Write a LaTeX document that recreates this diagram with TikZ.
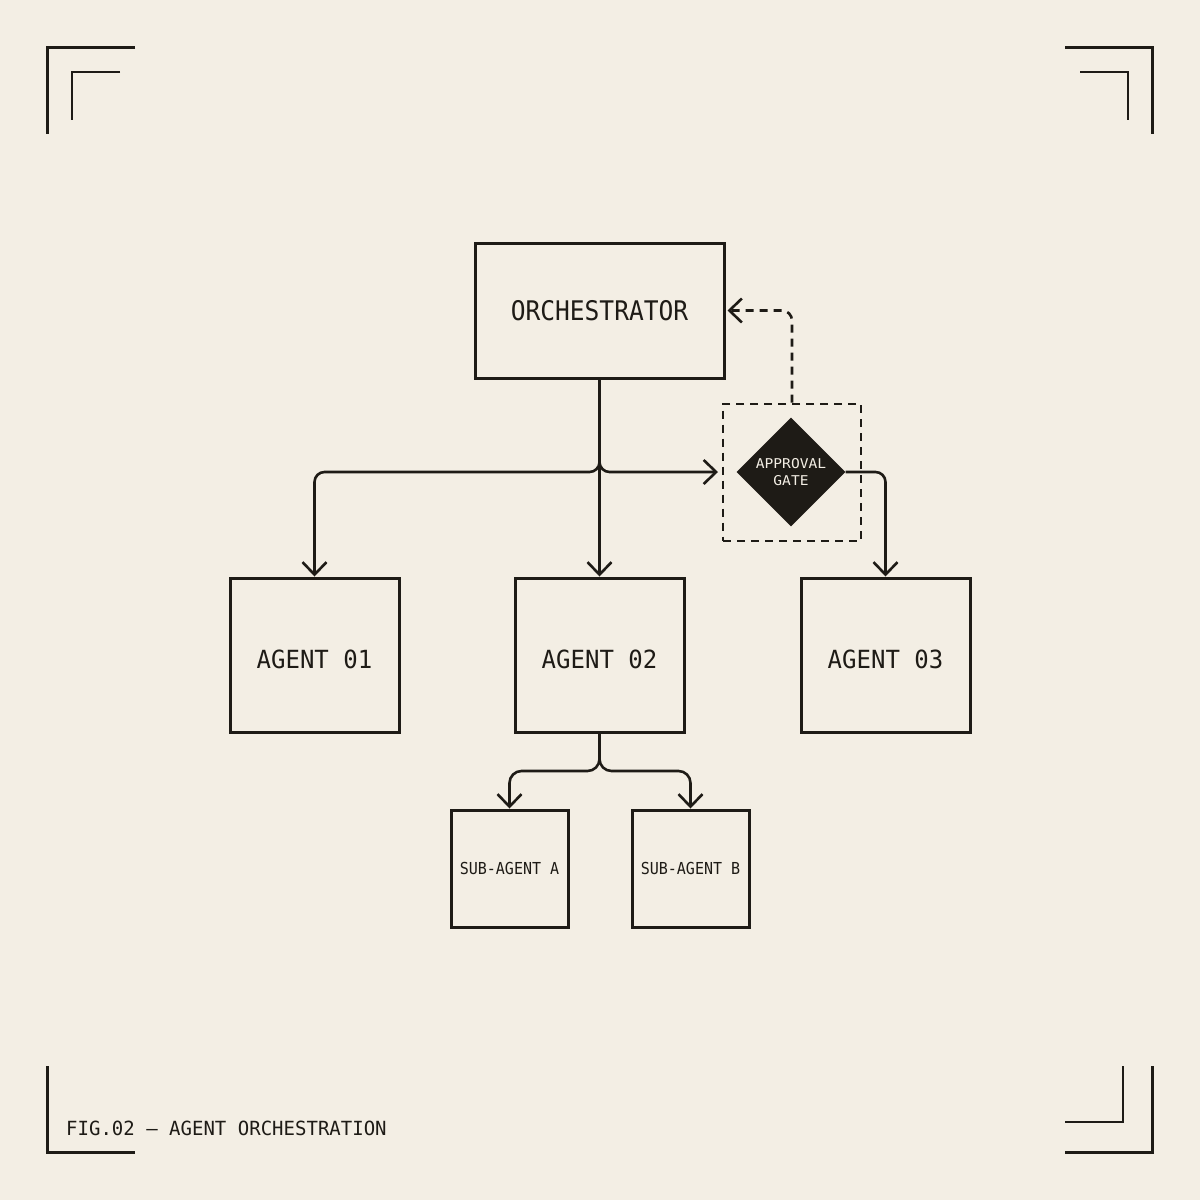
\documentclass[tikz,border=0pt]{standalone}
\usepackage{fontspec}
\usetikzlibrary{arrows.meta,shapes.geometric}
\newfontfamily\monoN[FakeStretch=0.91]{DejaVu Sans Mono}
\newfontfamily\monoM[FakeStretch=0.96]{DejaVu Sans Mono}
\newfontfamily\monoC[FakeStretch=0.975]{DejaVu Sans Mono}
\newfontfamily\monoW[FakeStretch=1.08]{DejaVu Sans Mono}
\definecolor{bg}{HTML}{F3EEE4}
\definecolor{ink}{HTML}{1E1B16}
\begin{document}
\begin{tikzpicture}[x=1pt,y=-1pt,
  box/.style={draw=ink, line width=3pt, inner sep=0pt, text=ink},
  conn/.style={draw=ink, line width=2.6pt, rounded corners=10pt, -{Straight Barb[length=12.5pt,width=24pt]}},
  dconn/.style={conn, dash pattern=on 8pt off 6pt},
  corner/.style={draw=ink, line width=3pt},
  cornerin/.style={draw=ink, line width=2.5pt},
]
\useasboundingbox (0,0) rectangle (1200,1200);
\fill[bg] (0,0) rectangle (1200,1200);

% corner marks
\draw[corner] (135,47) -- (47,47) -- (47,134);
\draw[cornerin] (120,72) -- (72,72) -- (72,120);
\draw[corner] (1065,47) -- (1152,47) -- (1152,134);
\draw[cornerin] (1080,72) -- (1128,72) -- (1128,120);
\draw[corner] (47,1066) -- (47,1152) -- (135,1152);
\draw[corner] (1152,1066) -- (1152,1152) -- (1065,1152);
\draw[cornerin] (1123,1066) -- (1123,1122) -- (1065,1122);

% boxes
\node[box, minimum width=249pt, minimum height=135pt, font=\monoN\fontsize{27}{30}\selectfont] (orch) at (599.5,310.5) {ORCHESTRATOR};
\node[box, minimum width=169pt, minimum height=154pt, text height=26pt, text depth=0pt, font=\monoM\fontsize{25}{30}\selectfont] (a1) at (314.5,655) {AGENT 01};
\node[box, minimum width=169pt, minimum height=154pt, text height=26pt, text depth=0pt, font=\monoM\fontsize{25}{30}\selectfont] (a2) at (599.5,655) {AGENT 02};
\node[box, minimum width=169pt, minimum height=154pt, text height=26pt, text depth=0pt, font=\monoM\fontsize{25}{30}\selectfont] (a3) at (885.5,655) {AGENT 03};
\node[box, minimum width=117pt, minimum height=117pt, font=\monoN\fontsize{16.5}{20}\selectfont] (sa) at (509.5,868.5) {SUB-AGENT A};
\node[box, minimum width=117pt, minimum height=117pt, font=\monoN\fontsize{16.5}{20}\selectfont] (sb) at (690.5,868.5) {SUB-AGENT B};

% approval gate
\node[draw=ink, line width=2pt, dash pattern=on 8pt off 6pt, minimum width=138pt, minimum height=137pt, inner sep=0pt] (gate) at (792,472) {};
\node[diamond, fill=ink, minimum width=109pt, minimum height=109pt, inner sep=0pt, text=bg, align=center, font=\monoW\fontsize{13.5}{17}\selectfont] (dia) at (791,472) {\raisebox{-3pt}{APPROVAL}\\\raisebox{-3pt}{GATE}};

% junctions
\coordinate (split) at (599.5,472);
\coordinate (split2) at (599.5,771);

% connectors
\draw[conn] (orch.south) -- (a2.north);
\draw[conn] (orch.south) -- (split) -| (a1.north);
\draw[conn, shorten >=4pt] (orch.south) -- (split) -- (gate.west);
\draw[conn] (dia.east) -| (a3.north);
\draw[dconn, shorten >=2pt] (gate.north) |- (orch.east);
\draw[conn, rounded corners=12pt] (a2.south) -- (split2) -| (sa.north);
\draw[conn, rounded corners=12pt] (a2.south) -- (split2) -| (sb.north);

% caption
\node[anchor=base west, inner sep=0pt, text=ink, font=\monoC\fontsize{19.5}{22}\selectfont] (cap) at (66,1135) {FIG.02 — AGENT ORCHESTRATION};
\end{tikzpicture}
\end{document}
